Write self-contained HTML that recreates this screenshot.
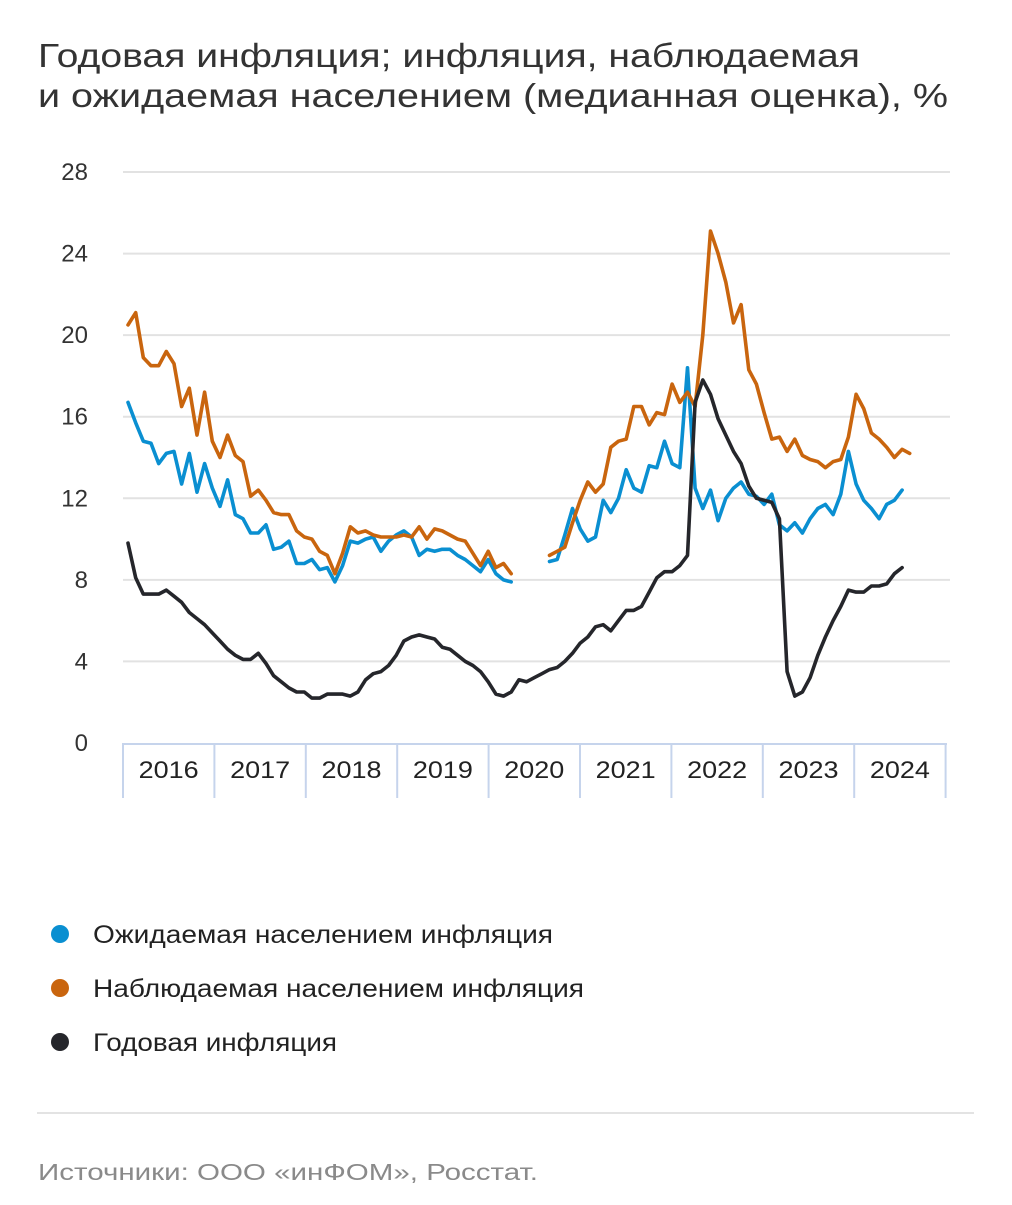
<!DOCTYPE html>
<html><head><meta charset="utf-8"><style>
body{margin:0;background:#fff;width:1012px;height:1200px;overflow:hidden;font-family:"Liberation Sans",sans-serif;}
</style></head><body>
<svg id="chart" width="1012" height="1200" xmlns="http://www.w3.org/2000/svg" font-family="Liberation Sans, sans-serif">
<text x="38" y="67" font-size="33" fill="#333" textLength="822" lengthAdjust="spacingAndGlyphs">Годовая инфляция; инфляция, наблюдаемая</text>
<text x="38" y="107" font-size="33" fill="#333" textLength="910" lengthAdjust="spacingAndGlyphs">и ожидаемая населением (медианная оценка), %</text>
<g id="grid"></g><g id="xaxis"></g><g id="series"></g>
<g>
<circle cx="60" cy="934" r="9" fill="#0a8fd1"/>
<text x="93" y="943" font-size="25" fill="#222" textLength="460" lengthAdjust="spacingAndGlyphs">Ожидаемая населением инфляция</text>
<circle cx="60" cy="988" r="9" fill="#c9650e"/>
<text x="93" y="997" font-size="25" fill="#222" textLength="491" lengthAdjust="spacingAndGlyphs">Наблюдаемая населением инфляция</text>
<circle cx="60" cy="1042" r="9" fill="#25262b"/>
<text x="93" y="1051" font-size="25" fill="#222" textLength="244" lengthAdjust="spacingAndGlyphs">Годовая инфляция</text>
</g>
<line x1="37" y1="1113" x2="974" y2="1113" stroke="#e3e3e3" stroke-width="2"/>
<text x="38" y="1180" font-size="23" fill="#8a8a8a" textLength="500" lengthAdjust="spacingAndGlyphs">Источники: ООО «инФОМ», Росстат.</text>
</svg>
<script>
const yTicks=[0,4,8,12,16,20,24,28];
const years=["2016","2017","2018","2019","2020","2021","2022","2023","2024"];
const annual=[9.8,8.1,7.3,7.3,7.3,7.5,7.2,6.9,6.4,6.1,5.8,5.4,
5.0,4.6,4.3,4.1,4.1,4.4,3.9,3.3,3.0,2.7,2.5,2.5,
2.2,2.2,2.4,2.4,2.4,2.3,2.5,3.1,3.4,3.5,3.8,4.3,
5.0,5.2,5.3,5.2,5.1,4.7,4.6,4.3,4.0,3.8,3.5,3.0,
2.4,2.3,2.5,3.1,3.0,3.2,3.4,3.6,3.7,4.0,4.4,4.9,
5.2,5.7,5.8,5.5,6.0,6.5,6.5,6.7,7.4,8.1,8.4,8.4,
8.7,9.2,16.7,17.8,17.1,15.9,15.1,14.3,13.7,12.6,12.0,11.9,
11.8,11.0,3.5,2.3,2.5,3.2,4.3,5.2,6.0,6.7,7.5,7.4,
7.4,7.7,7.7,7.8,8.3,8.6];
const expected1=[16.7,15.7,14.8,14.7,13.7,14.2,14.3,12.7,14.2,12.3,13.7,12.5,
11.6,12.9,11.2,11.0,10.3,10.3,10.7,9.5,9.6,9.9,8.8,8.8,
9.0,8.5,8.6,7.9,8.7,9.9,9.8,10.0,10.1,9.4,9.9,10.2,
10.4,10.1,9.2,9.5,9.4,9.5,9.5,9.2,9.0,8.7,8.4,9.0,
8.3,8.0,7.9];
const observed1=[20.5,21.1,18.9,18.5,18.5,19.2,18.6,16.5,17.4,15.1,17.2,14.8,
14.0,15.1,14.1,13.8,12.1,12.4,11.9,11.3,11.2,11.2,10.4,10.1,
10.0,9.4,9.2,8.3,9.3,10.6,10.3,10.4,10.2,10.1,10.1,10.1,
10.2,10.1,10.6,10.0,10.5,10.4,10.2,10.0,9.9,9.3,8.7,
9.4,8.6,8.8,8.3];
const expected2=[8.9,9.0,10.2,11.5,10.5,9.9,10.1,11.9,11.3,12.0,13.4,12.5,12.3,13.6,13.5,14.8,13.7,13.5,18.4,
12.5,11.5,12.4,10.9,12.0,12.5,12.8,12.2,12.1,11.7,12.2,10.7,10.4,10.8,10.3,11.0,11.5,11.7,11.2,12.2,14.3,12.7,11.9,11.5,11.0,11.7,11.9,12.4];
const observed2=[9.2,9.4,9.6,10.8,11.9,12.8,12.3,12.7,14.5,14.8,14.9,16.5,16.5,15.6,16.2,16.1,17.6,16.7,17.2,16.5,20.0,25.1,
24.0,22.6,20.6,21.5,18.3,17.6,16.2,14.9,15.0,14.3,14.9,14.1,13.9,13.8,13.5,13.8,13.9,15.0,17.1,16.4,15.2,14.9,14.5,14.0,14.4,14.2];
const seg2Start=55;

const NS="http://www.w3.org/2000/svg";
const x0=123, yearW=91.4;
const xOf=i=>128+i*7.664;
const yOf=v=>743-v*(571/28);
function mk(tag,attrs,parent){const e=document.createElementNS(NS,tag);for(const k in attrs)e.setAttribute(k,attrs[k]);parent.appendChild(e);return e;}
const grid=document.getElementById('grid');
yTicks.forEach(t=>{
  if(t>0){const l=mk('line',{x1:123,x2:950,y1:yOf(t),y2:yOf(t),stroke:'#e2e2e2','stroke-width':2},grid);
  
  }
  const tx=mk('text',{x:88,y:yOf(t)+8,'font-size':24,fill:'#333','text-anchor':'end'},grid);
  tx.textContent=t;
  
  
});
const xa=document.getElementById('xaxis');
const al=mk('line',{x1:123,x2:947,y1:744,y2:744,stroke:'#c6d4ec','stroke-width':2},xa);


for(let k=0;k<=years.length;k++){
  const sx=x0+k*yearW;
  const s=mk('line',{x1:sx,x2:sx,y1:743,y2:798,stroke:'#c6d4ec','stroke-width':2},xa);
  
  
  if(k<years.length){
    const t=mk('text',{x:sx+yearW/2-30,y:778,'font-size':24,fill:'#222',textLength:60,lengthAdjust:'spacingAndGlyphs'},xa);
    t.textContent=years[k];
    
    
  }
}
const sg=document.getElementById('series');
function line(vals,start,color,name){
  const d=vals.map((v,i)=>(i?'L':'M')+xOf(start+i).toFixed(1)+','+yOf(v).toFixed(1)).join('');
  const p=mk('path',{d:d,fill:'none',stroke:color,'stroke-width':3.6,'stroke-linejoin':'round','stroke-linecap':'round'},sg);
  
  
}
line(expected1,0,'#0a8fd1','expected-inflation-line-1');
line(expected2,seg2Start,'#0a8fd1','expected-inflation-line-2');
line(observed1,0,'#c9650e','observed-inflation-line-1');
line(observed2,seg2Start,'#c9650e','observed-inflation-line-2');
line(annual,0,'#25262b','annual-inflation-line');
</script>
</body></html>
